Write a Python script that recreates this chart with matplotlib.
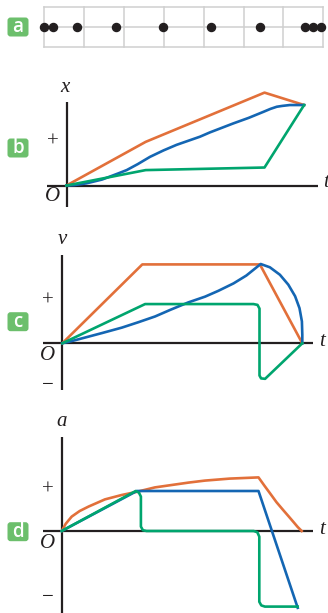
import matplotlib.pyplot as plt
from matplotlib.patches import FancyBboxPatch
from matplotlib.transforms import IdentityTransform

W, H = 328, 613

ORANGE = '#e2703a'
BLUE = '#1466b3'
GREEN = '#00a56e'
INK = '#231f20'
TAG = '#6cbf6c'
GRID = '#cfcfcf'

# panel a: motion diagram, dot positions in grid cells
n_cells = 7
dot_pos = [0, 0.225, 0.825, 1.79, 2.99, 4.19, 5.41, 6.53, 6.74, 6.94]

# panel b: x against t
b_orange_t = [0, 2, 5, 6]
b_orange_y = [0, 1.02, 2.17, 1.88]
b_green_t = [0, 2, 5, 6]
b_green_y = [0, 0.36, 0.42, 1.88]
b_blue_t = [0, 0.2, 0.5, 0.68, 0.9, 1.10, 1.3, 1.52, 1.8, 2.11, 2.45, 2.78, 3.37, 3.62,
            4.21, 4.6, 4.97, 5.15, 5.31, 5.45, 5.64, 5.8, 6]
b_blue_y = [0, 0.01, 0.05, 0.09, 0.14, 0.21, 0.28, 0.36, 0.5, 0.67, 0.82, 0.95, 1.14, 1.24,
            1.45, 1.58, 1.72, 1.79, 1.84, 1.86, 1.88, 1.88, 1.88]

# panel c: v against t
c_orange_t = [0, 2, 4.94, 6]
c_orange_y = [0, 1.91, 1.91, 0]
c_green_t = [0, 2.07, 4.78, 4.88, 4.93, 4.93, 4.97, 5.07, 6]
c_green_y = [0, 0.95, 0.95, 0.93, 0.84, -0.78, -0.85, -0.86, 0]
c_blue_t = [0, 0.3, 0.65, 1.0, 1.49, 1.9, 2.32, 2.7, 3.15, 3.57, 3.9, 4.28, 4.6, 4.96,
            5.19, 5.44, 5.65, 5.82, 5.93, 5.99, 6.0, 6.0]
c_blue_y = [0, 0.07, 0.16, 0.25, 0.38, 0.51, 0.65, 0.81, 0.99, 1.13, 1.27, 1.45, 1.64, 1.92,
            1.84, 1.66, 1.42, 1.14, 0.85, 0.53, 0.21, 0]

# panel d: a against t
d_orange_t = [0, 0.1, 0.25, 0.45, 0.67, 1.08, 1.5, 1.88, 2.33, 3.17, 3.58, 4.2, 4.92,
              5.07, 5.21, 5.37, 5.54, 5.67, 5.79, 5.9, 6]
d_orange_y = [0, 0.18, 0.36, 0.5, 0.61, 0.79, 0.9, 0.98, 1.09, 1.21, 1.26, 1.31, 1.34,
              1.13, 0.94, 0.72, 0.52, 0.37, 0.23, 0.1, 0]
d_blue_t = [0, 1.88, 4.92, 5.9]
d_blue_y = [0, 1.0, 1.0, -1.92]
d_green_t = [0, 1.85, 1.93, 1.98, 1.98, 2.03, 2.12, 4.8, 4.89, 4.94, 4.94, 4.99, 5.08, 5.9]
d_green_y = [0, 1.0, 0.96, 0.86, 0.11, 0.02, 0, 0, -0.03, -0.14, -1.77, -1.86, -1.89, -1.89]

fig = plt.figure(figsize=(W / 100, H / 100), dpi=100)


def panel(top, bottom, ox, oy, sx, sy):
    # axes spanning full width, scaled so that origin sits at pixel (ox, oy)
    ax = fig.add_axes([0, 1 - bottom / H, 1, (bottom - top) / H])
    ax.set_xlim(-ox / sx, (W - ox) / sx)
    ax.set_ylim((oy - bottom) / sy, (oy - top) / sy)
    ax.axis('off')
    return ax


def label(x, y, s, italic=True, size=15):
    fig.text(x / W, 1 - y / H, s, ha='center', va='center', fontsize=size,
             family='Liberation Serif', style='italic' if italic else 'normal', color=INK)


def tag(cy, s):
    fig.add_artist(FancyBboxPatch((7.5, H - cy - 9.5), 21, 19,
                                  boxstyle='round,pad=0,rounding_size=3',
                                  transform=IdentityTransform(), fc=TAG, ec='none'))
    fig.text(18 / W, 1 - (cy + 0.5) / H, s, ha='center', va='center', color='white',
             fontsize=13.5, fontweight='semibold', family='Open Sans')


def axes_lines(ax, x0, x1, y0, y1):
    ax.plot([x0, x1], [0, 0], color=INK, lw=1.6, clip_on=False, solid_capstyle='butt')
    ax.plot([0, 0], [y0, y1], color=INK, lw=1.6, clip_on=False, solid_capstyle='butt')


def curve(ax, t, y, color):
    ax.plot(t, y, color=color, lw=1.9, clip_on=False, solid_joinstyle='round')


# panel a
ax = panel(0, 60, 44.3, 26.7, 39.86, 20)
for i in range(n_cells + 1):
    ax.plot([i, i], [-1, 1], color=GRID, lw=1.1)
for yy in [-1, 0, 1]:
    ax.plot([0, n_cells], [yy, yy], color=GRID, lw=1.1)
ax.plot(dot_pos, [0] * len(dot_pos), 'o', ms=5.8, color=INK, clip_on=False)
tag(27, 'a')

# panel b
ax = panel(70, 215, 66.5, 185.5, 39.6, 42.8)
axes_lines(ax, -0.49, 6.35, -0.5, 1.95)
curve(ax, b_orange_t, b_orange_y, ORANGE)
curve(ax, b_blue_t, b_blue_y, BLUE)
curve(ax, b_green_t, b_green_y, GREEN)
label(65, 88, 'x')
label(53, 142, '+', italic=False, size=15)
label(53, 197, 'O')
label(326, 183, 't')
tag(148, 'b')

# panel c
ax = panel(225, 395, 62.3, 343.3, 40, 41.3)
axes_lines(ax, -0.48, 6.27, -1.13, 2.14)
curve(ax, c_orange_t, c_orange_y, ORANGE)
curve(ax, c_blue_t, c_blue_y, BLUE)
curve(ax, c_green_t, c_green_y, GREEN)
label(62, 239, 'v')
label(48, 301, '+', italic=False, size=15)
label(48, 356, 'O')
label(48, 386, '\u2212', italic=False, size=15)
label(322, 341, 't')
tag(321.7, 'c')

# panel d
ax = panel(405, 613, 61.7, 531, 40, 40)
axes_lines(ax, -0.47, 6.28, -2.05, 2.35)
curve(ax, d_orange_t, d_orange_y, ORANGE)
curve(ax, d_blue_t, d_blue_y, BLUE)
curve(ax, d_green_t, d_green_y, GREEN)
label(62, 422, 'a')
label(48, 490, '+', italic=False, size=15)
label(48, 544, 'O')
label(48, 597, '\u2212', italic=False, size=15)
label(322, 529, 't')
tag(531.7, 'd')

fig.savefig('out.png', dpi=100)
